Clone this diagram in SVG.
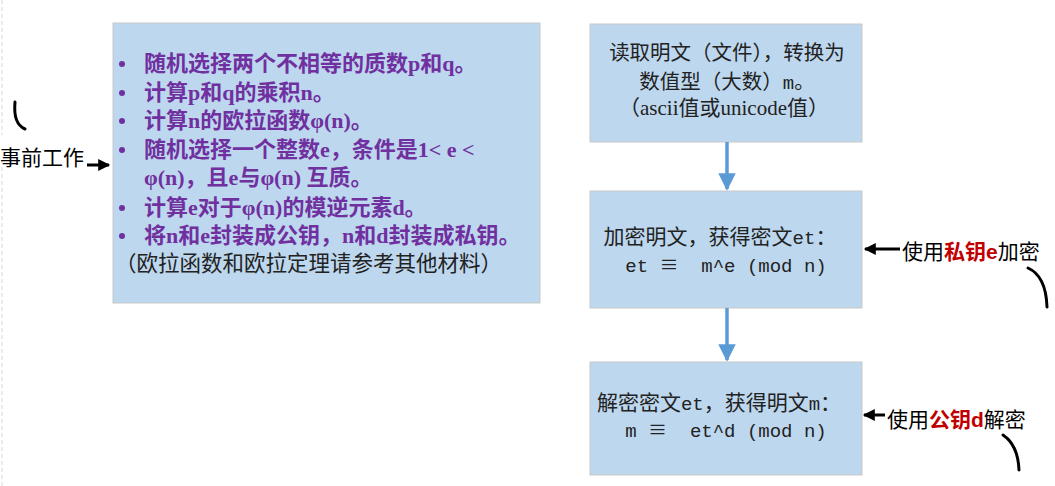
<svg xmlns="http://www.w3.org/2000/svg" width="1055" height="486" viewBox="0 0 1055 486">
<style>
.box{fill:#BDD7EE;stroke:#c9c9c9;stroke-width:1}
.pur{font-family:"Liberation Serif","Noto Sans CJK SC",serif;font-weight:bold;font-size:22px;fill:#7030A0}
.blk{font-family:"Liberation Serif","Noto Sans CJK SC",serif;font-size:20px;fill:#222}
.mono{font-family:"Liberation Mono","Noto Sans CJK SC",monospace;font-size:19px;fill:#222}
.eq{font-family:"Noto Sans CJK SC",sans-serif}
.lab{font-family:"Liberation Sans","Noto Sans CJK SC",sans-serif;font-size:21px;fill:#000}
.red{fill:#C00000;font-weight:bold}
.curve{fill:none;stroke:#000;stroke-width:3;stroke-linecap:round}
.blue{stroke:#5B9BD5;stroke-width:3.5;fill:none}
.blackarrow{stroke:#000;stroke-width:3;fill:none}
</style>
<defs>
<marker id="bh" viewBox="0 0 10 10" refX="9" refY="5" markerWidth="6" markerHeight="5" markerUnits="strokeWidth" orient="auto"><path d="M0,0 L10,5 L0,10 z" fill="#5B9BD5"/></marker>
<marker id="kh" viewBox="0 0 10 10" refX="9" refY="5" markerWidth="5" markerHeight="4" markerUnits="strokeWidth" orient="auto"><path d="M0,0 L10,5 L0,10 z" fill="#000"/></marker>
</defs>
<line x1="2" y1="0" x2="2" y2="135" stroke="#d8d8d8" stroke-dasharray="4 3"/>
<line x1="2" y1="160" x2="2" y2="486" stroke="#d8d8d8" stroke-dasharray="4 3"/>
<g id="prep">
<rect class="box" x="113" y="23" width="427" height="280"/>
<g fill="#7030A0"><circle cx="122" cy="64" r="3"/><circle cx="122" cy="93" r="3"/><circle cx="122" cy="121" r="3"/><circle cx="122" cy="150" r="3"/><circle cx="122" cy="208" r="3"/><circle cx="122" cy="236" r="3"/></g>
<text class="pur" x="144" y="71">随机选择两个不相等的质数p和q。</text>
<text class="pur" x="144" y="100">计算p和q的乘积n。</text>
<text class="pur" x="144" y="128">计算n的欧拉函数φ(n)。</text>
<text class="pur" x="144" y="157">随机选择一个整数e，条件是1&lt; e &lt;</text>
<text class="pur" x="144" y="185">φ(n)，且e与φ(n) 互质。</text>
<text class="pur" x="144" y="215">计算e对于φ(n)的模逆元素d。</text>
<text class="pur" x="144" y="243">将n和e封装成公钥，n和d封装成私钥。</text>
<text class="blk" x="115" y="271" style="font-size:21.5px">（欧拉函数和欧拉定理请参考其他材料）</text>
</g>
<g id="read">
<rect class="box" x="590" y="24" width="272" height="118"/>
<text class="blk" x="727" y="60" text-anchor="middle" style="font-size:20.5px">读取明文（文件），转换为</text>
<text class="blk" x="727" y="89" text-anchor="middle" style="font-size:20.5px">数值型（大数）<tspan class="mono">m</tspan>。</text>
<text class="blk" x="724" y="115" text-anchor="middle" style="font-size:21px">（ascii值或unicode值）</text>
</g>
<g id="encrypt">
<rect class="box" x="590" y="191" width="272" height="117"/>
<text class="blk" x="720" y="244" text-anchor="middle" style="font-size:21px">加密明文，获得密文<tspan class="mono">et</tspan>：</text>
<text class="mono" x="726" y="272" text-anchor="middle" xml:space="preserve">et <tspan class="eq">≡</tspan>  m^e (mod n)</text>
</g>
<g id="decrypt">
<rect class="box" x="590" y="362" width="272" height="113"/>
<text class="blk" x="719" y="410" text-anchor="middle" style="font-size:21px">解密密文<tspan class="mono">et</tspan>，获得明文<tspan class="mono">m</tspan>：</text>
<text class="mono" x="726" y="437" text-anchor="middle" xml:space="preserve">m <tspan class="eq">≡</tspan>  et^d (mod n)</text>
</g>
<g id="label-prep">
<text class="lab" x="0" y="165">事前工作</text>
<path class="curve" d="M15,102 Q13,124 25,129"/>
</g>
<g id="label-enc">
<text class="lab" x="902" y="259">使用<tspan class="red">私钥e</tspan>加密</text>
<path class="curve" d="M1028,268 Q1046,276 1047,307"/>
</g>
<g id="label-dec">
<text class="lab" x="887" y="427">使用<tspan class="red">公钥d</tspan>解密</text>
<path class="curve" d="M1003,435 Q1018,445 1019,470"/>
</g>
<g id="connectors">
<line class="blue" x1="727" y1="142" x2="727" y2="189" marker-end="url(#bh)"/>
<line class="blue" x1="727" y1="308" x2="727" y2="360" marker-end="url(#bh)"/>
<line class="blackarrow" x1="87" y1="165" x2="109" y2="165" marker-end="url(#kh)"/>
<line class="blackarrow" x1="900" y1="249" x2="865" y2="249" marker-end="url(#kh)"/>
<line class="blackarrow" x1="885" y1="415" x2="864" y2="415" marker-end="url(#kh)"/>
</g>
</svg>
